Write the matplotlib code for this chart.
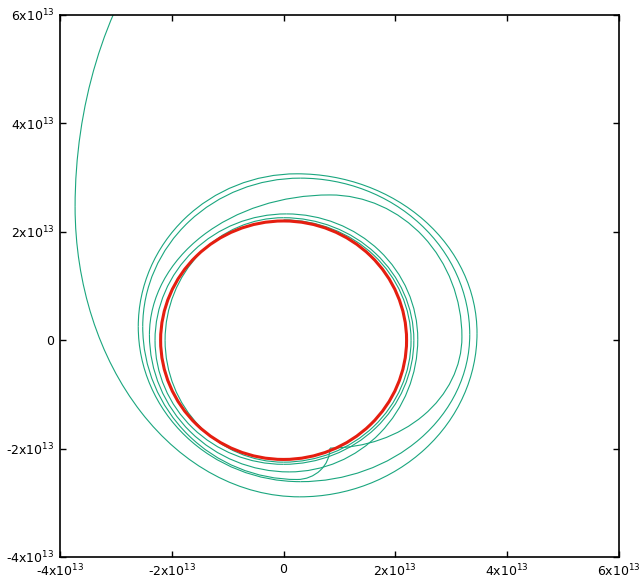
import matplotlib
matplotlib.use("Agg")
import matplotlib.pyplot as plt
from matplotlib.patches import Arc, Circle

plt.rcParams.update({"font.family": "DejaVu Sans", "font.size": 9, "mathtext.default": "regular"})

# orbit, units of 1e13.
# each list holds the turning points of the track in order top -> left -> bottom -> right -> top ...
# (outer capture loops, ending in the little hook under the circle)
outer_start = "T"
outer_x = [1.19, -3.73, 0.29, 3.46, 0.24, -2.60, 0.30, 3.33, 0.30, -2.52, 0.24, 0.83]
outer_y = [9.44, 2.46, -2.89, 0.13, 3.07, 0.25, -2.61, 0.10, 2.99, 0.25, -2.57, -1.99]

# loops after the hook, settling onto the circle
inner_start = "B"
inner_x = [0.83, 3.19, 0.83, -2.40, 0.10, 2.40, 0.05, -2.30, 0.00, 2.33, 0.00, -2.12, 0.00, 2.28, 0.00]
inner_y = [-1.99, 0.06, 2.68, 0.10, -2.43, 0.02, 2.33, 0.00, -2.29, 0.00, 2.26, 0.00, -2.25, 0.00, 2.22]

final_radius = 2.2

ticks = [-4, -2, 0, 2, 4, 6]
# plain hyphen as in the original, only the exponent in mathtext
tick_labels = ["%dx10$^{13}$" % t if t != 0 else "0" for t in ticks]

GREEN = "#1aa67e"
RED = "#e51e10"
ORDER = ["T", "L", "B", "R"]


def draw_track(ax, xs, ys, start):
    k = ORDER.index(start)
    for i in range(len(xs) - 1):
        a = ORDER[(k + i) % 4]
        x0, y0, x1, y1 = xs[i], ys[i], xs[i + 1], ys[i + 1]
        # quarter of an ellipse between two neighbouring turning points
        if a == "T":
            c, w, h, t1 = (x0, y1), x0 - x1, y0 - y1, 90
        elif a == "L":
            c, w, h, t1 = (x1, y0), x1 - x0, y0 - y1, 180
        elif a == "B":
            c, w, h, t1 = (x0, y1), x1 - x0, y1 - y0, 270
        else:
            c, w, h, t1 = (x1, y0), x0 - x1, y1 - y0, 0
        ax.add_patch(Arc(c, 2 * w, 2 * h, theta1=t1, theta2=t1 + 90,
                         color=GREEN, lw=0.8))


fig = plt.figure(figsize=(6.4, 5.85), dpi=100)
ax = fig.add_axes([60 / 640, 1 - 557 / 585, 559 / 640, 542 / 585])

draw_track(ax, outer_x, outer_y, outer_start)
draw_track(ax, inner_x, inner_y, inner_start)
ax.add_patch(Circle((0, 0), final_radius, fill=False, color=RED, lw=2.2, zorder=3))

ax.set_xlim(-4, 6)
ax.set_ylim(-4, 6)
ax.set_xticks(ticks)
ax.set_yticks(ticks)
ax.set_xticklabels(tick_labels)
ax.set_yticklabels(tick_labels)
ax.tick_params(direction="in", length=4, width=1, top=True, right=True, pad=4, labelsize=9)
for s in ax.spines.values():
    s.set_linewidth(1.2)

fig.savefig("out.png", dpi=100)
